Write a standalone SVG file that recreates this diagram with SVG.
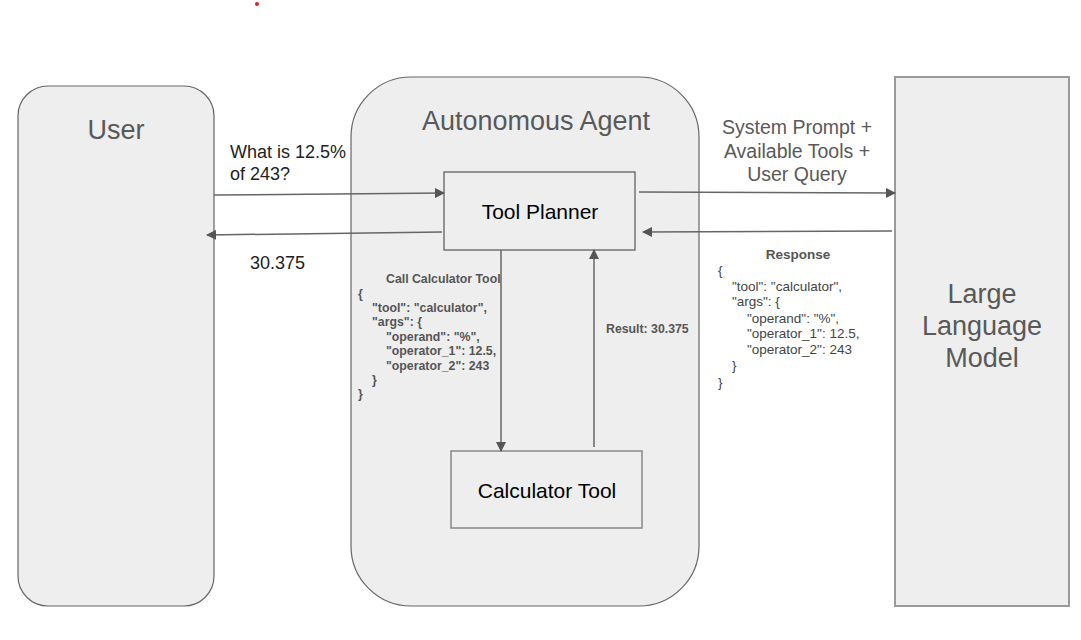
<svg xmlns="http://www.w3.org/2000/svg" width="1081" height="640" viewBox="0 0 1081 640">
<defs>
<marker id="ah" viewBox="0 0 10 10" refX="9" refY="5" markerWidth="10" markerHeight="10" markerUnits="userSpaceOnUse" orient="auto">
<path d="M0,0 L10,5 L0,10 z" fill="#555"/>
</marker>
<style>
.big{font-family:"Liberation Sans",Arial,sans-serif;font-size:27px;fill:#595959}
.mid{font-family:"Liberation Sans",Arial,sans-serif;font-size:19.5px;fill:#595959}
.lbl{font-family:"Liberation Sans",Arial,sans-serif;font-size:18px;fill:#222}
.box{font-family:"Liberation Sans",Arial,sans-serif;font-size:21px;fill:#000}
.code{font-family:"Liberation Sans",Arial,sans-serif;font-size:13.5px;fill:#444}
.codeb{font-family:"Liberation Sans",Arial,sans-serif;font-size:12.3px;fill:#555;font-weight:bold}
.resp{font-family:"Liberation Sans",Arial,sans-serif;font-size:13.5px;fill:#555;font-weight:bold}
.conn{stroke:#666;stroke-width:1.5;fill:none;marker-end:url(#ah)}
</style>
</defs>
<rect width="1081" height="640" fill="#fff"/>
<circle cx="257" cy="4" r="2" fill="#e02020"/>
<g id="user">
<rect x="18" y="86" width="196" height="520" rx="30" fill="#eee" stroke="#666" stroke-width="1.2"/>
<text class="big" x="116" y="139" text-anchor="middle">User</text>
</g>
<g id="agent">
<rect x="351" y="77" width="348" height="529" rx="60" fill="#eee" stroke="#666" stroke-width="1.2"/>
<text class="big" x="536" y="130" text-anchor="middle">Autonomous Agent</text>
</g>
<g id="llm">
<rect x="895" y="77" width="174" height="529" fill="#eee" stroke="#999" stroke-width="2"/>
<text class="big" x="982" y="303" text-anchor="middle">Large</text>
<text class="big" x="982" y="335" text-anchor="middle">Language</text>
<text class="big" x="982" y="367" text-anchor="middle">Model</text>
</g>
<g id="planner">
<rect x="444" y="172" width="191" height="78" fill="#eee" stroke="#555" stroke-width="1.2"/>
<text class="box" x="540" y="219" text-anchor="middle">Tool Planner</text>
</g>
<g id="calc">
<rect x="451" y="451" width="191" height="77" fill="#eee" stroke="#888" stroke-width="1.5"/>
<text class="box" x="547" y="498" text-anchor="middle">Calculator Tool</text>
</g>
<g id="connectors">
<path class="conn" d="M214,195 L444,193"/>
<path class="conn" d="M442,232 L207,235"/>
<path class="conn" d="M639,192 L895,193"/>
<path class="conn" d="M892,231 L643,232"/>
<path class="conn" d="M501,250 L501,451"/>
<path class="conn" d="M594,447 L594,250"/>
</g>
<g id="labels">
<text class="lbl" x="230" y="158">What is 12.5%</text>
<text class="lbl" x="230" y="180">of 243?</text>
<text class="lbl" x="250" y="269">30.375</text>
<text class="mid" x="797" y="134" text-anchor="middle">System Prompt +</text>
<text class="mid" x="797" y="158" text-anchor="middle">Available Tools +</text>
<text class="mid" x="797" y="181" text-anchor="middle">User Query</text>
<text class="codeb" x="386" y="283">Call Calculator Tool</text>
<text class="codeb" x="358" y="298">{</text>
<text class="codeb" x="372" y="312">"tool": "calculator",</text>
<text class="codeb" x="372" y="326">"args": {</text>
<text class="codeb" x="386" y="341">"operand": "%",</text>
<text class="codeb" x="386" y="355">"operator_1": 12.5,</text>
<text class="codeb" x="386" y="370">"operator_2": 243</text>
<text class="codeb" x="372" y="384">}</text>
<text class="codeb" x="358" y="398">}</text>
<text class="codeb" x="606" y="333">Result: 30.375</text>
<text class="resp" x="798" y="259" text-anchor="middle">Response</text>
<text class="code" x="718" y="275">{</text>
<text class="code" x="732" y="291">"tool": "calculator",</text>
<text class="code" x="732" y="306">"args": {</text>
<text class="code" x="747" y="323">"operand": "%",</text>
<text class="code" x="747" y="338">"operator_1": 12.5,</text>
<text class="code" x="747" y="354">"operator_2": 243</text>
<text class="code" x="732" y="370">}</text>
<text class="code" x="718" y="387">}</text>
</g>
</svg>
